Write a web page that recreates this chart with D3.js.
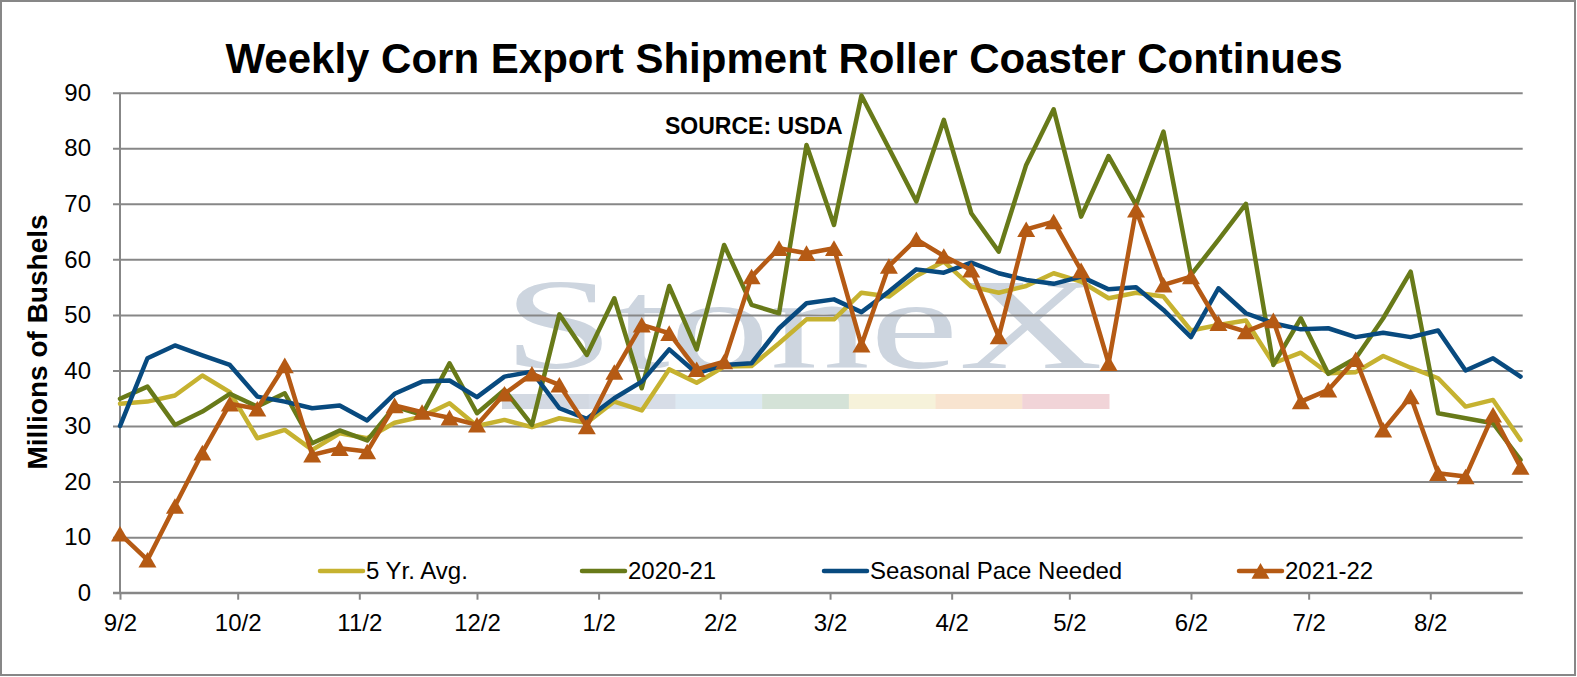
<!DOCTYPE html>
<html>
<head>
<meta charset="utf-8">
<script src="https://cdn.jsdelivr.net/npm/d3@7"></script>
<style>
  body { margin: 0; background: #fff; }
  text { font-family: "Liberation Sans", Arial, sans-serif; }
</style>
</head>
<body>
<svg id="chart" width="1577" height="677"></svg>
<script>
// weekly shipments, marketing year starting 9/2
const firstWeek = "2021-09-02"
const lastWeek = "2022-08-25"
const tickDates = ["2021-09-02", "2021-10-02", "2021-11-02", "2021-12-02", "2022-01-02", "2022-02-02",
                   "2022-03-02", "2022-04-02", "2022-05-02", "2022-06-02", "2022-07-02", "2022-08-02"]
const yTicks = [0, 10, 20, 30, 40, 50, 60, 70, 80, 90]
const seriesNames = ["5 Yr. Avg.", "2020-21", "Seasonal Pace Needed", "2021-22"]

const avg5yr = [34.0, 34.4, 35.5, 39.1, 36.1, 27.8, 29.3, 25.7, 28.7, 27.8,
                30.6, 31.7, 34.1, 30.0, 31.1, 29.8, 31.4, 30.6, 34.4, 32.8,
                40.2, 37.8, 40.7, 40.8, 44.9, 49.2, 49.2, 54.0, 53.3, 57.0,
                59.6, 55.1, 54.0, 55.2, 57.5, 56.0, 53.0, 54.0, 53.3, 47.2,
                48.2, 49.0, 41.3, 43.2, 39.5, 39.7, 42.6, 40.5, 38.6, 33.5,
                34.7, 27.5]
const my2020_21 = [34.9, 37.1, 30.2, 32.6, 35.8, 33.5, 35.9, 26.9, 29.2, 27.4,
                   33.5, 32.0, 41.3, 32.3, 36.5, 30.2, 50.1, 42.8, 53.0, 36.8,
                   55.2, 43.8, 62.6, 51.8, 50.3, 80.6, 66.2, 89.5, 80.0, 70.4,
                   85.1, 68.3, 61.4, 77.0, 87.0, 67.7, 78.6, 69.8, 83.0, 57.2,
                   63.5, 70.0, 41.0, 49.4, 39.4, 42.2, 49.4, 57.8, 32.3, 31.4,
                   30.5, 23.9]
const seasonalPace = [30.0, 42.2, 44.5, 42.7, 41.0, 35.3, 34.4, 33.2, 33.7, 31.0,
                      35.8, 38.0, 38.2, 35.2, 38.9, 39.8, 33.2, 31.3, 35.0, 38.0,
                      43.8, 39.5, 41.0, 41.3, 47.6, 52.1, 52.8, 50.5, 54.2, 58.2,
                      57.6, 59.4, 57.5, 56.3, 55.6, 56.9, 54.6, 55.0, 50.9, 46.0,
                      54.8, 50.3, 48.5, 47.4, 47.6, 46.0, 46.8, 46.0, 47.2, 40.0,
                      42.2, 38.9]
const my2021_22 = [10.6, 5.9, 15.6, 25.2, 34.0, 33.1, 40.9, 24.8, 26.0, 25.4,
                   33.7, 32.5, 31.5, 30.2, 35.8, 39.4, 37.4, 29.9, 39.7, 48.2,
                   46.7, 40.2, 41.6, 56.9, 62.0, 61.1, 62.0, 44.6, 58.8, 63.6,
                   60.6, 58.1, 46.1, 65.4, 66.8, 58.0, 41.3, 68.9, 55.4, 56.9,
                   48.5, 47.0, 49.0, 34.4, 36.5, 42.0, 29.3, 35.3, 21.5, 20.9,
                   32.0, 22.6]

const colors = ["#c6b230", "#687a19", "#084a7f", "#b55a14"]
const watermarkBars = ["#d3d9e2", "#d7dde7", "#dde9f2", "#d4e2d7", "#f6f2da", "#f8e4d0", "#f1d4d8"]

const parse = d3.timeParse("%Y-%m-%d")
const svg = d3.select("#chart")
const grey = "#878787"
const sans = "'Liberation Sans', Arial, sans-serif"

const x = d3.scaleTime().domain([parse(firstWeek), parse(lastWeek)]).range([120, 1520.5])
const y = d3.scaleLinear().domain([0, 90]).range([592.7, 92.7])
// one point per week
const dates = avg5yr.map((d, i) => d3.timeDay.offset(parse(firstWeek), 7 * i))

// outer frame
svg.append("rect").attr("x", 1).attr("y", 1).attr("width", 1574).attr("height", 674)
  .attr("fill", "#fff").attr("stroke", grey).attr("stroke-width", 2)

// title
svg.append("text").attr("x", 784).attr("y", 72.5).attr("text-anchor", "middle")
  .attr("font-size", 42).attr("font-weight", "bold").attr("fill", "#000")
  .text("Weekly Corn Export Shipment Roller Coaster Continues")

// watermark
const wm = svg.append("g")
const bw = d3.scaleBand().domain(d3.range(watermarkBars.length)).range([502, 1109])
wm.selectAll("rect").data(watermarkBars).enter().append("rect")
  .attr("x", (d, i) => bw(i)).attr("width", bw.bandwidth() + 0.5)
  .attr("y", 394).attr("height", 15).attr("fill", d => d)
wm.append("text").attr("x", 503).attr("y", 368)
  .style("font-family", "'Liberation Serif', 'DejaVu Serif', serif")
  .attr("font-size", 130).attr("fill", "#cdd5df")
  .attr("textLength", 600).attr("lengthAdjust", "spacingAndGlyphs")
  .text("StoneX")

// gridlines + y axis
const yAxis = d3.axisLeft(y).tickValues(yTicks).tickSize(-(1522.7 - 113)).tickPadding(22)
svg.append("g").attr("transform", "translate(113,0)").call(yAxis)
  .call(g => g.select(".domain").remove())
  .call(g => g.selectAll("line").attr("stroke", grey).attr("stroke-width", 2))
  .call(g => g.selectAll("text").attr("font-size", 24).attr("fill", "#000").attr("font-family", sans))
svg.append("line").attr("x1", 120).attr("x2", 120).attr("y1", y(90)).attr("y2", y(0) + 1)
  .attr("stroke", grey).attr("stroke-width", 2)

// x axis
const xAxis = d3.axisBottom(x).tickValues(tickDates.map(parse))
  .tickFormat(d3.timeFormat("%-m/%-d")).tickSize(7).tickPadding(14)
svg.append("g").attr("transform", `translate(0,${y(0)})`).call(xAxis)
  .call(g => g.select(".domain").attr("d", "M113,0H1522.7").attr("stroke", grey).attr("stroke-width", 2))
  .call(g => g.selectAll("line").attr("stroke", grey).attr("stroke-width", 2))
  .call(g => g.selectAll("text").attr("font-size", 24).attr("fill", "#000").attr("font-family", sans))

// y axis title
svg.append("text").attr("transform", "translate(47,342) rotate(-90)")
  .attr("text-anchor", "middle").attr("font-size", 28).attr("font-weight", "bold")
  .text("Millions of Bushels")

// source note
svg.append("text").attr("x", 665).attr("y", 134).attr("font-size", 23).attr("font-weight", "bold")
  .text("SOURCE: USDA")

// series
const allSeries = [avg5yr, my2020_21, seasonalPace, my2021_22]
const line = d3.line().x((d, i) => x(dates[i])).y(d => y(d))
svg.append("g").selectAll("path").data(allSeries).enter().append("path")
  .attr("d", line).attr("fill", "none")
  .attr("stroke", (d, i) => colors[i]).attr("stroke-width", 4.5)
  .attr("stroke-linejoin", "round").attr("stroke-linecap", "round")

const tri = d3.symbol().type(d3.symbolTriangle).size(140)
svg.append("g").selectAll("path").data(my2021_22).enter().append("path")
  .attr("d", tri).attr("fill", colors[3])
  .attr("transform", (d, i) => `translate(${x(dates[i])},${y(d) + 2.5})`)

// legend
const legendX = [320, 582, 824, 1239]
const leg = svg.append("g").selectAll("g").data(seriesNames).enter().append("g")
  .attr("transform", (d, i) => `translate(${legendX[i]},571)`)
leg.append("line").attr("x1", 0).attr("x2", 43).attr("stroke", (d, i) => colors[i])
  .attr("stroke-width", 4.5).attr("stroke-linecap", "round")
leg.filter((d, i) => i === 3).append("path").attr("d", tri)
  .attr("transform", "translate(21.5,2.5)").attr("fill", colors[3])
leg.append("text").attr("x", 46).attr("dy", "0.35em").attr("font-size", 24).text(d => d)
</script>
</body>
</html>
